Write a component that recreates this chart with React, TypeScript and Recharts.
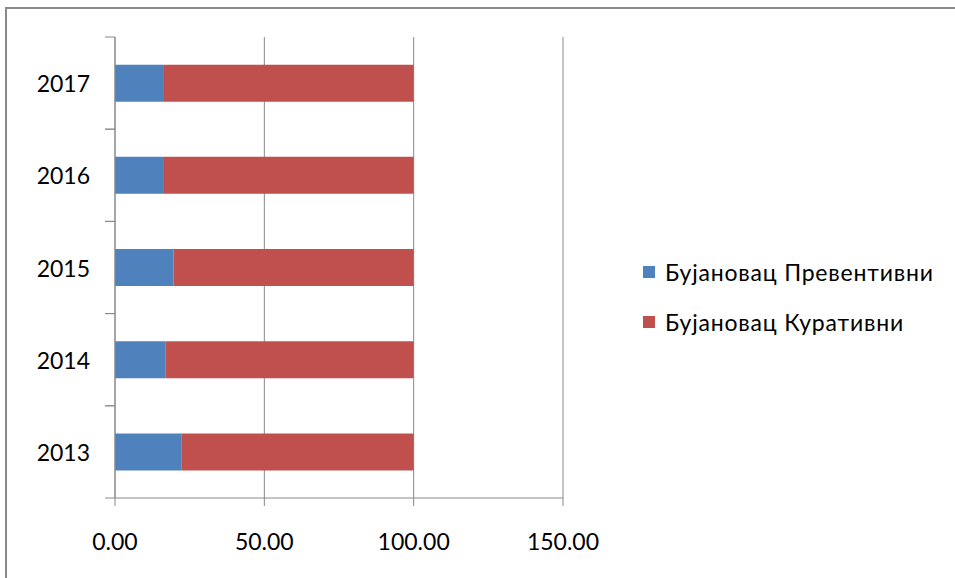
import React from "react";
import { Bar, BarChart, CartesianGrid, Legend, XAxis, YAxis } from "recharts";

const years = ["2013", "2014", "2015", "2016", "2017"];
const preventive = [22.2, 17.0, 19.6, 16.1, 16.1];
const curative = [77.8, 83.0, 80.4, 83.9, 83.9];
const xTicks = [0, 50, 100, 150];

const seriesNames = ["Бујановац Превентивни", "Бујановац Куративни"];
const seriesColors = ["#4F81BD", "#C0504D"];

const data = years.map((year, i) => ({
  year,
  prev: preventive[i],
  cur: curative[i],
}));

const AXIS = "#898989";
const FONT = "Lato, 'Open Sans', sans-serif";

// year label plus the small ticks that sit on the band edges
const YearTick = (props: any) => {
  const { x, y, payload } = props;
  const half = payload && payload.offset ? payload.offset : 46.1;
  const axisX = x + 25;
  return (
    <g>
      <line x1={axisX - 10} x2={axisX} y1={y - half} y2={y - half} stroke={AXIS} />
      <line x1={axisX - 10} x2={axisX} y1={y + half} y2={y + half} stroke={AXIS} />
      <text
        x={x}
        y={y}
        textAnchor="end"
        dominantBaseline="central"
        fill="#000"
        style={{ fontSize: 23, fontFamily: FONT }}
      >
        {payload.value}
      </text>
    </g>
  );
};

const renderLegend = () => (
  <div style={{ fontFamily: FONT, fontSize: 23, color: "#000", letterSpacing: 0.8 }}>
    {seriesNames.map((name, i) => (
      <div key={name} style={{ display: "flex", alignItems: "center", height: 50 }}>
        <span
          style={{
            width: 12,
            height: 12,
            background: seriesColors[i],
            display: "inline-block",
            marginRight: 10,
          }}
        />
        <span>{name}</span>
      </div>
    ))}
  </div>
);

export default function App() {
  return (
    <div
      style={{
        position: "absolute",
        left: 0,
        top: 0,
        width: 955,
        height: 578,
        overflow: "hidden",
        background: "#fff",
      }}
    >
      <div
        style={{
          position: "absolute",
          left: 5,
          top: 7,
          width: 1200,
          height: 1200,
          borderTop: "2px solid #8a8a8a",
          borderLeft: "2px solid #8a8a8a",
        }}
      />
      <BarChart
        width={955}
        height={578}
        layout="vertical"
        data={data}
        margin={{ top: 37, right: 392, bottom: 0, left: 0 }}
        barCategoryGap="30%"
      >
        <CartesianGrid horizontal={false} stroke={AXIS} />
        <XAxis
          type="number"
          domain={[0, 150]}
          ticks={xTicks}
          tickFormatter={(v: number) => v.toFixed(2)}
          height={80}
          stroke={AXIS}
          tickSize={8}
          tickMargin={28}
          tick={{ fill: "#000", fontSize: 23, fontFamily: FONT }}
        />
        <YAxis
          type="category"
          dataKey="year"
          reversed
          width={115}
          stroke={AXIS}
          tickLine={false}
          tickSize={0}
          tickMargin={25}
          interval={0}
          tick={<YearTick />}
        />
        <Legend
          layout="vertical"
          align="center"
          verticalAlign="middle"
          content={renderLegend}
          wrapperStyle={{ left: 643, top: 247, width: 310 }}
        />
        <Bar dataKey="prev" stackId="a" fill={seriesColors[0]} isAnimationActive={false} />
        <Bar dataKey="cur" stackId="a" fill={seriesColors[1]} isAnimationActive={false} />
      </BarChart>
    </div>
  );
}
